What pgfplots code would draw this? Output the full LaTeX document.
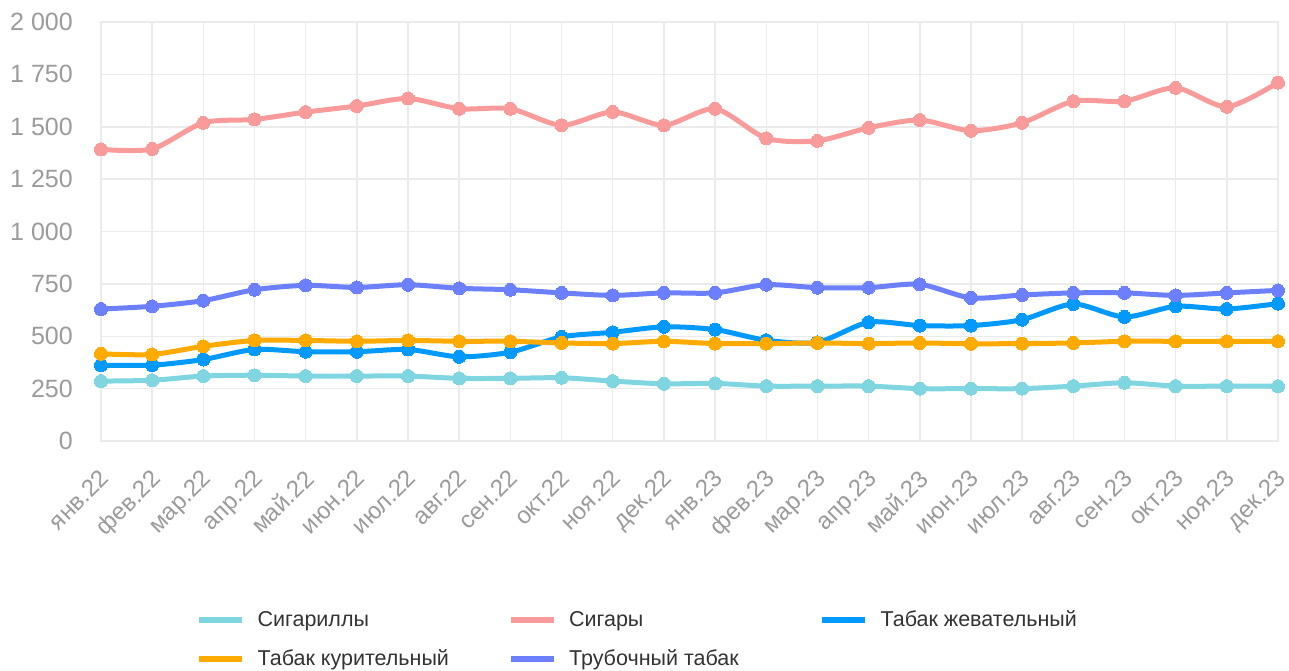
\documentclass[border=0pt]{standalone}
\usepackage{pgfplots}
\pgfplotsset{compat=1.18}
\usepackage{fontspec}
\setmainfont{Liberation Sans}
\definecolor{cTeal}{RGB}{128,214,224}
\definecolor{cPink}{RGB}{249,155,155}
\definecolor{cBlue}{RGB}{0,153,255}
\definecolor{cOrange}{RGB}{255,170,0}
\definecolor{cPurple}{RGB}{107,127,255}
\definecolor{cGrid}{RGB}{235,235,235}
\definecolor{cLabel}{RGB}{155,155,155}
\definecolor{cText}{RGB}{51,51,51}
\begin{document}
\begin{tikzpicture}
\begin{axis}[
  scale only axis,
  width=1177pt, height=419pt,
  xmin=0, xmax=23, ymin=0, ymax=2000,
  clip=false,
  xtick={0,...,23},
  xticklabels={янв.22,фев.22,мар.22,апр.22,май.22,июн.22,июл.22,авг.22,сен.22,окт.22,ноя.22,дек.22,янв.23,фев.23,мар.23,апр.23,май.23,июн.23,июл.23,авг.23,сен.23,окт.23,ноя.23,дек.23},
  ytick={0,250,500,750,1000,1250,1500,1750,2000},
  yticklabels={0,250,500,750,1 000,1 250,1 500,1 750,2 000},
  major tick length=0pt,
  grid=major,
  major grid style={draw=cGrid, line width=1.5pt},
  axis line style={draw=cGrid, line width=1.5pt},
  yticklabel style={font=\fontsize{25}{29}\selectfont, text=cLabel, inner sep=0pt, anchor=east},
  yticklabel shift=28pt,
  xticklabel style={font=\fontsize{24}{28}\selectfont, text=cLabel, inner sep=0pt, rotate=45, anchor=north east, xshift=-4pt},
  xticklabel shift=24pt,
  every axis plot/.append style={line width=5pt, smooth, tension=0.45, mark=*, mark size=6.5pt, mark options={line width=0pt}},
  legend columns=3,
  legend cell align=left,
  legend image code/.code={\draw[line width=6pt, #1] (0pt,0pt) -- (43pt,0pt); \path (56pt,0pt);},
  legend style={draw=none, fill=none, at={(axis description cs:0.0781,-0.399)}, anchor=north west,
    font=\fontsize{21.5}{25}\selectfont, text=cText,
    nodes={inner sep=0pt, text height=16pt, text depth=4pt},
    column sep=0pt, row sep=19pt},
]
\addplot[color=cTeal] coordinates {(0,286)(1,290)(2,310)(3,314)(4,310)(5,310)(6,310)(7,299)(8,299)(9,302)(10,286)(11,273)(12,275)(13,262)(14,262)(15,262)(16,250)(17,250)(18,250)(19,262)(20,278)(21,262)(22,262)(23,262)};
\addlegendentry{\makebox[250pt][l]{Сигариллы}}
\addplot[color=cPink] coordinates {(0,1392)(1,1394)(2,1519)(3,1535)(4,1570)(5,1599)(6,1635)(7,1586)(8,1586)(9,1507)(10,1571)(11,1507)(12,1586)(13,1445)(14,1433)(15,1495)(16,1532)(17,1481)(18,1519)(19,1622)(20,1622)(21,1686)(22,1595)(23,1711)};
\addlegendentry{\makebox[250pt][l]{Сигары}}
\addplot[color=cBlue] coordinates {(0,362)(1,362)(2,389)(3,437)(4,426)(5,426)(6,437)(7,402)(8,424)(9,497)(10,519)(11,545)(12,532)(13,481)(14,471)(15,567)(16,551)(17,551)(18,579)(19,654)(20,592)(21,643)(22,630)(23,656)};
\addlegendentry{Табак жевательный}
\addplot[color=cOrange] coordinates {(0,416)(1,413)(2,452)(3,480)(4,480)(5,476)(6,480)(7,476)(8,476)(9,468)(10,465)(11,476)(12,465)(13,465)(14,468)(15,465)(16,468)(17,464)(18,465)(19,468)(20,476)(21,476)(22,476)(23,476)};
\addlegendentry{\makebox[250pt][l]{Табак курительный}}
\addplot[color=cPurple] coordinates {(0,630)(1,643)(2,670)(3,722)(4,743)(5,733)(6,746)(7,729)(8,722)(9,707)(10,695)(11,707)(12,707)(13,746)(14,732)(15,732)(16,748)(17,683)(18,697)(19,707)(20,707)(21,695)(22,707)(23,719)};
\addlegendentry{\makebox[250pt][l]{Трубочный табак}}
\end{axis}
\pgfresetboundingbox
\path (-101pt,-229pt) rectangle (1188pt,441pt);
\end{tikzpicture}
\end{document}
